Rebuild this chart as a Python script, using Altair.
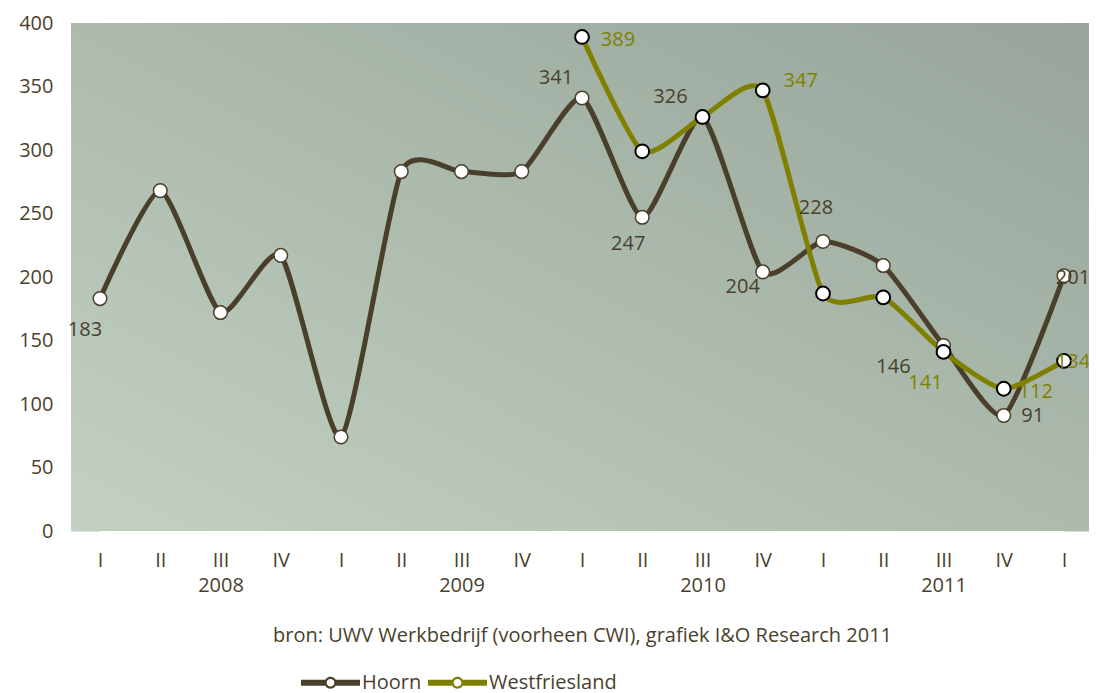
import altair as alt
import pandas as pd

# ---- data ----
years = ["2008"] * 4 + ["2009"] * 4 + ["2010"] * 4 + ["2011"] * 4 + ["2012"]
quarters = ["I", "II", "III", "IV"] * 4 + ["I"]
hoorn = [183, 268, 172, 217, 74, 283, 283, 283, 341, 247, 326, 204, 228, 209, 146, 91, 201]
westfriesland = [None] * 8 + [389, 299, 326, 347, 187, 184, 141, 112, 134]
series_names = ["Hoorn", "Westfriesland"]
source_text = "bron: UWV Werkbedrijf (voorheen CWI), grafiek I&O Research 2011"

periods = [f"{y}-{q}" for y, q in zip(years, quarters)]

rows = []
for p, v in zip(periods, hoorn):
    rows.append({"period": p, "series": "Hoorn", "value": v})
for p, v in zip(periods, westfriesland):
    if v is not None:
        rows.append({"period": p, "series": "Westfriesland", "value": v})
df = pd.DataFrame(rows)

# ---- style ----
FONT = "Open Sans"
FS = 20
TXT = "#4a3f2c"
BROWN = "#4a3f2a"
OLIVE = "#808000"
W, H = 1018, 508

x_scale = alt.Scale(type="point", domain=periods, range=[29, 993], padding=0)
y_scale = alt.Scale(domain=[0, 400])

def xq(axis=None):
    return alt.X("period:N", scale=x_scale, sort=periods, axis=axis)

def yv():
    return alt.Y("value:Q", scale=y_scale)

x_q = xq(alt.Axis(title=None, labelExpr="split(datum.label, '-')[1]",
                  labelFont=FONT, labelFontSize=FS, labelColor=TXT,
                  labelPadding=19, ticks=False, domain=False, grid=False,
                  labelAngle=0, orient="bottom"))
x_y = xq(alt.Axis(title=source_text, titleFont=FONT, titleFontSize=FS,
                  titleFontWeight="normal", titleColor=TXT, titlePadding=30,
                  labelExpr="split(datum.label, '-')[1] == 'III' ? split(datum.label, '-')[0] : ''",
                  labelFont=FONT, labelFontSize=FS, labelColor=TXT,
                  labelPadding=44, ticks=False, domain=False, grid=False,
                  labelAngle=0, orient="bottom"))
y_enc = alt.Y("value:Q", scale=y_scale,
              axis=alt.Axis(title=None, values=list(range(0, 401, 50)),
                            labelFont=FONT, labelFontSize=FS, labelColor=TXT,
                            labelPadding=18, ticks=False, domain=False,
                            grid=True, gridColor="white", gridWidth=1.5))

bg = alt.Chart(alt.Data(values=[{}])).mark_rect(
    color=alt.LinearGradient(
        gradient="linear", x1=0, y1=1, x2=1, y2=0,
        stops=[alt.GradientStop(color="#c2d1c4", offset=0),
               alt.GradientStop(color="#acbbae", offset=0.5),
               alt.GradientStop(color="#97a59a", offset=1)])
).encode(x=alt.value(0), x2=alt.value(W), y=alt.value(0), y2=alt.value(H))

base = alt.Chart(df)

grid = base.mark_point(opacity=0).encode(x=x_q, y=y_enc)

legend_path = ("M-1,-0.1 H-0.17 V0.1 H-1 Z "
               "M0.17,-0.1 H1 V0.1 H0.17 Z "
               "M0.2,0 A0.2,0.2 0 1,1 -0.2,0 A0.2,0.2 0 1,1 0.2,0 Z "
               "M0.13,0 A0.13,0.13 0 1,0 -0.13,0 A0.13,0.13 0 1,0 0.13,0 Z")

color_scale = alt.Scale(domain=series_names, range=[BROWN, OLIVE])

legend_layer = base.mark_point(filled=True, size=10, shape=legend_path).encode(
    x=xq(), y=yv(),
    fill=alt.Fill("series:N", scale=color_scale,
                  legend=alt.Legend(title=None, orient="none", direction="horizontal",
                                    legendX=230, legendY=630,
                                    symbolType=legend_path, symbolSize=3480,
                                    symbolStrokeWidth=0, symbolOpacity=1,
                                    labelFont=FONT, labelFontSize=FS, labelColor=TXT,
                                    labelOffset=2, columnPadding=6))
)

lines = base.mark_line(strokeWidth=5, interpolate="cardinal", tension=0.4).encode(
    x=xq(), y=yv(),
    stroke=alt.Stroke("series:N", scale=color_scale, legend=None),
)

pts_h = base.transform_filter(alt.datum.series == "Hoorn").mark_point(
    filled=True, fill="white", stroke=BROWN, strokeWidth=1.5, size=185, opacity=1
).encode(x=xq(), y=yv())

pts_w = base.transform_filter(alt.datum.series == "Westfriesland").mark_point(
    filled=True, fill="white", stroke="black", strokeWidth=2, size=190, opacity=1
).encode(x=xq(), y=yv())

# label layout: (series, period, dx, dy)
label_layout = [
    ("Hoorn", "2008-I", -15, 31),
    ("Hoorn", "2010-I", -26, -20),
    ("Hoorn", "2010-II", -14, 27),
    ("Hoorn", "2010-III", -32, -20),
    ("Hoorn", "2010-IV", -20, 15),
    ("Hoorn", "2011-I", -7, -33),
    ("Hoorn", "2011-III", -50, 21),
    ("Hoorn", "2011-IV", 29, 1),
    ("Hoorn", "2012-I", 9, 2),
    ("Westfriesland", "2010-I", 36, 3),
    ("Westfriesland", "2010-IV", 38, -9),
    ("Westfriesland", "2011-III", -18, 31),
    ("Westfriesland", "2011-IV", 32, 3),
    ("Westfriesland", "2012-I", 9, 1),
]
label_layers = []
for s, p, dx, dy in label_layout:
    label_layers.append(
        base.transform_filter((alt.datum.series == s) & (alt.datum.period == p))
        .mark_text(font=FONT, fontSize=FS, color=(TXT if s == "Hoorn" else OLIVE),
                   dx=dx, dy=dy, align="center", baseline="middle")
        .encode(x=xq(), y=yv(), text="value:Q")
    )

year_axis = base.mark_point(opacity=0).encode(x=x_y, y=yv())

chart = alt.layer(
    bg, grid, legend_layer, lines, pts_h, pts_w, *label_layers, year_axis
).resolve_axis(x="independent").properties(
    width=W, height=H,
    autosize=alt.AutoSizeParams(type="none"),
    padding={"left": 63, "top": 15, "right": 0, "bottom": 162},
).configure_view(stroke=None).configure(background="white")

chart.save("out.html", embed_options={"renderer": "svg", "actions": False})
